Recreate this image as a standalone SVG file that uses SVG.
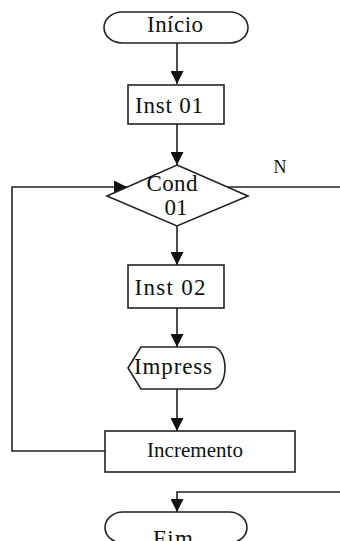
<svg xmlns="http://www.w3.org/2000/svg" width="340" height="541" viewBox="0 0 340 541">
<style>
.s{fill:#fff;stroke:#222;stroke-width:1.6}
.c{fill:none;stroke:#222;stroke-width:1.6}
text{font-family:"Liberation Serif","Times New Roman",serif;font-size:23px;fill:#111;text-anchor:middle}
</style>
<defs>
<marker id="a" markerWidth="13" markerHeight="13" refX="13" refY="6.5" orient="auto" markerUnits="userSpaceOnUse">
<path d="M0,0 L13,6.5 L0,13 Z" fill="#111"/>
</marker>
</defs>
<rect width="340" height="541" fill="#fff"/>
<g id="connectors">
<path class="c" d="M177,43 V84" marker-end="url(#a)"/>
<path class="c" d="M177,124 V165" marker-end="url(#a)"/>
<path class="c" d="M177,226 V265" marker-end="url(#a)"/>
<path class="c" d="M177,308 V347" marker-end="url(#a)"/>
<path class="c" d="M177,389 V431" marker-end="url(#a)"/>
<path class="c" d="M105,451 H12 V187 H127" marker-end="url(#a)"/>
<path class="c" d="M228,187 H340"/>
<path class="c" d="M340,492 H177 V512" marker-end="url(#a)"/>
</g>
<g id="inicio">
<rect class="s" x="104" y="12" width="144" height="31" rx="18" ry="15.5"/>
<text x="175" y="32" textLength="56">Início</text>
</g>
<g id="inst01">
<rect class="s" x="128" y="85" width="96" height="39"/>
<text x="169" y="113" textLength="68">Inst 01</text>
</g>
<g id="cond01">
<polygon class="s" points="177,165 248,196 177,226 107,196"/>
<text x="172" y="191" textLength="51">Cond</text>
<text x="176" y="215">01</text>
</g>
<g id="n-label">
<text x="280" y="173" style="font-size:18px">N</text>
</g>
<g id="inst02">
<rect class="s" x="128" y="265" width="96" height="43"/>
<text x="170" y="295" textLength="71">Inst 02</text>
</g>
<g id="impress">
<path class="s" d="M128,368 L141,347 L213,347 A12,21 0 0 1 213,389 L141,389 Z"/>
<text x="173" y="374" textLength="78">Impress</text>
</g>
<g id="incremento">
<rect class="s" x="105" y="431" width="190" height="41"/>
<text x="195" y="457" style="font-size:21px" textLength="96">Incremento</text>
</g>
<g id="fim">
<rect class="s" x="105" y="512" width="142" height="31" rx="18" ry="15.5"/>
<text x="173" y="546" textLength="40">Fim</text>
</g>
</svg>
